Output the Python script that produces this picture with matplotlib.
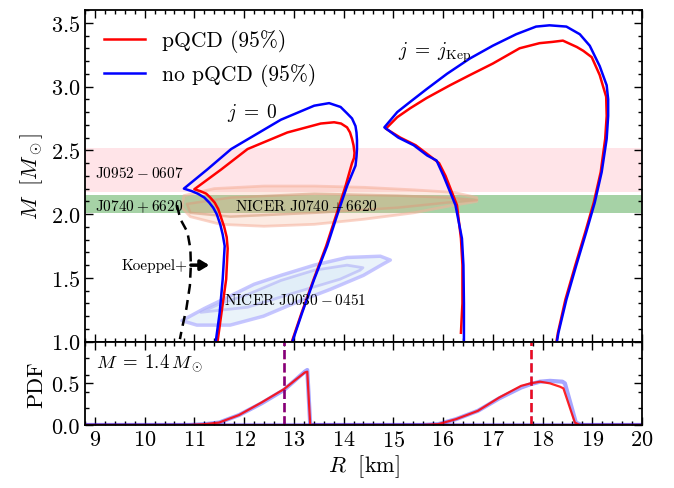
import matplotlib
matplotlib.use("Agg")
import matplotlib.pyplot as plt
from matplotlib.patches import Polygon
from matplotlib.ticker import MultipleLocator

plt.rcParams["font.family"] = "serif"
plt.rcParams["font.serif"] = ["cmr10"]
plt.rcParams["mathtext.fontset"] = "cm"
plt.rcParams["axes.formatter.use_mathtext"] = True
plt.rcParams["axes.unicode_minus"] = False

# ---- M-R curves, j = 0 ----
r_j0_blue = [11.43, 11.51, 11.57, 11.61, 11.57, 11.52, 11.45, 11.38, 11.30,
             11.20, 11.07, 10.95, 10.79,
             11.26, 11.74, 12.74, 13.41, 13.71, 13.94, 14.07, 14.17, 14.24,
             14.26, 14.27, 14.27, 14.26, 14.24, 14.07, 13.87, 13.67, 13.41,
             13.17, 12.97]
m_j0_blue = [1.00, 1.23, 1.49, 1.75, 1.84, 1.92, 2.00, 2.05, 2.09,
             2.13, 2.16, 2.18, 2.20,
             2.35, 2.51, 2.74, 2.85, 2.87, 2.84, 2.79, 2.75, 2.69,
             2.64, 2.58, 2.51, 2.45, 2.38, 2.22, 1.99, 1.75, 1.49,
             1.23, 1.00]

r_j0_red = [11.47, 11.54, 11.64, 11.67, 11.65, 11.60, 11.54, 11.48, 11.41,
            11.32, 11.24, 11.12, 11.00,
            11.54, 12.07, 12.87, 13.54, 13.81, 13.95, 14.07, 14.13, 14.17,
            14.20, 14.22, 14.21, 14.17, 14.04, 13.85, 13.65, 13.40, 13.16, 12.96]
m_j0_red = [1.01, 1.21, 1.49, 1.73, 1.82, 1.90, 1.97, 2.04, 2.09,
            2.13, 2.16, 2.18, 2.195,
            2.35, 2.51, 2.64, 2.71, 2.72, 2.71, 2.68, 2.64, 2.59,
            2.54, 2.48, 2.44, 2.40, 2.22, 1.99, 1.75, 1.49, 1.23, 1.00]

# ---- M-R curves, j = j_Kep ----
r_kep_blue = [16.42, 16.42, 16.41, 16.38, 16.25, 16.01, 15.87, 15.68, 15.41,
              15.10, 14.82, 15.08, 15.34, 15.67, 16.08, 16.54, 17.00, 17.47,
              17.87, 18.14, 18.48, 18.75, 18.95, 19.15, 19.29, 19.32, 19.32,
              19.29, 19.19, 19.05, 18.88, 18.68, 18.48, 18.32, 18.29]
m_kep_blue = [1.00, 1.30, 1.60, 1.81, 2.07, 2.30, 2.42, 2.46, 2.54,
              2.60, 2.68, 2.80, 2.88, 2.98, 3.10, 3.22, 3.32, 3.41,
              3.47, 3.48, 3.47, 3.41, 3.32, 3.16, 3.01, 2.90, 2.77,
              2.59, 2.33, 2.09, 1.86, 1.60, 1.33, 1.07, 1.00]

r_kep_red = [16.36, 16.39, 16.39, 16.36, 16.28, 16.05, 15.92, 15.72, 15.45,
             15.14, 14.85, 15.08, 15.34, 15.67, 16.14, 16.54, 17.00, 17.54,
             17.94, 18.20, 18.41, 18.69, 18.82, 18.99, 19.15, 19.28, 19.29,
             19.26, 19.17, 19.03, 18.86, 18.66, 18.46, 18.31, 18.28]
m_kep_red = [1.07, 1.30, 1.60, 1.81, 2.07, 2.30, 2.40, 2.46, 2.54,
             2.60, 2.67, 2.76, 2.83, 2.91, 3.01, 3.09, 3.18, 3.30,
             3.34, 3.35, 3.36, 3.31, 3.28, 3.23, 3.09, 2.92, 2.77,
             2.59, 2.33, 2.09, 1.86, 1.60, 1.33, 1.07, 1.00]

# ---- Koeppel+ bound ----
r_koeppel = [10.65, 10.72, 10.86, 10.92, 10.93, 10.91, 10.84, 10.75, 10.71]
m_koeppel = [2.07, 1.96, 1.86, 1.73, 1.60, 1.44, 1.26, 1.10, 1.02]

# ---- mass bands ----
j0952_band = (2.17, 2.52)
j0740_band = (2.01, 2.15)

# ---- NICER contours (95% outer, 68% inner) ----
j0740_outer_r = [10.79, 11.40, 12.40, 13.41, 14.41, 15.42, 16.22, 16.68,
                 16.68, 16.08, 15.41, 14.41, 13.41, 12.40, 11.53, 10.92, 10.75]
j0740_outer_m = [2.145, 2.20, 2.22, 2.22, 2.21, 2.19, 2.17, 2.13,
                 2.10, 2.06, 2.01, 1.96, 1.92, 1.905, 1.92, 1.98, 2.05]
j0740_inner_r = [10.85, 11.73, 13.41, 15.08, 16.08, 16.68,
                 16.08, 15.08, 13.41, 11.73, 10.92]
j0740_inner_m = [2.08, 2.13, 2.16, 2.145, 2.13, 2.11,
                 2.09, 2.05, 2.01, 1.98, 2.01]

j0030_outer_r = [10.75, 11.05, 11.72, 12.39, 13.06, 13.73, 14.40, 14.80, 14.94,
                 14.74, 14.07, 13.41, 12.74, 12.20, 11.73, 11.20]
j0030_outer_m = [1.165, 1.13, 1.13, 1.20, 1.31, 1.41, 1.52, 1.61, 1.64,
                 1.67, 1.66, 1.60, 1.52, 1.45, 1.36, 1.26]
j0030_inner_r = [11.13, 12.07, 13.07, 13.93, 14.33, 14.39,
                 14.07, 13.41, 12.74, 12.07, 11.53]
j0030_inner_m = [1.23, 1.27, 1.39, 1.49, 1.56, 1.58,
                 1.60, 1.56, 1.48, 1.37, 1.30]

# ---- PDF of R at M = 1.4 ----
pdf_r_j0 = [8.8, 10.9, 11.2, 11.5, 11.9, 12.35, 12.8, 13.05, 13.22, 13.27, 13.33, 20.0]
pdf_j0_red = [0, 0, 0.01, 0.03, 0.12, 0.27, 0.43, 0.55, 0.63, 0.64, 0.0, 0.0]
pdf_j0_blue = [0, 0, 0.01, 0.03, 0.12, 0.26, 0.42, 0.55, 0.64, 0.66, 0.0, 0.0]

pdf_r_kep_red = [8.8, 15.6, 15.9, 16.26, 16.7, 17.13, 17.57, 17.76, 17.95,
                 18.15, 18.35, 18.42, 18.65, 18.75, 20.0]
pdf_kep_red = [0, 0, 0.01, 0.07, 0.17, 0.33, 0.47, 0.50, 0.52,
               0.50, 0.46, 0.44, 0.03, 0.0, 0.0]
pdf_r_kep_blue = [8.8, 15.6, 15.9, 16.26, 16.7, 17.13, 17.57, 17.76, 17.95,
                  18.15, 18.40, 18.45, 18.67, 18.78, 20.0]
pdf_kep_blue = [0, 0, 0.01, 0.07, 0.17, 0.32, 0.45, 0.49, 0.52,
                0.53, 0.52, 0.50, 0.03, 0.0, 0.0]

median_j0 = 12.8
median_kep = 17.76


fig = plt.figure(figsize=(6.74, 4.89), dpi=100)
ax1 = fig.add_axes([0.126, 0.2992, 0.8265, 0.6783])
ax2 = fig.add_axes([0.126, 0.1288, 0.8265, 0.1704], sharex=ax1)

# bands
ax1.axhspan(*j0952_band, color="#ffe4e8", lw=0, zorder=0)
ax1.axhspan(*j0740_band, color="green", alpha=0.35, lw=0, zorder=0)

# NICER J0740 contours
ax1.add_patch(Polygon(list(zip(j0740_outer_r, j0740_outer_m)), closed=True,
                      facecolor="#f4a582", alpha=0.22, edgecolor="none", zorder=1))
ax1.add_patch(Polygon(list(zip(j0740_outer_r, j0740_outer_m)), closed=True,
                      facecolor="none", edgecolor="#f6b09a", lw=2, alpha=0.55,
                      joinstyle="round", zorder=1))
ax1.add_patch(Polygon(list(zip(j0740_inner_r, j0740_inner_m)), closed=True,
                      facecolor="#f4a582", alpha=0.18, edgecolor="none", zorder=1))
ax1.add_patch(Polygon(list(zip(j0740_inner_r, j0740_inner_m)), closed=True,
                      facecolor="none", edgecolor="#d9a080", lw=1.8, alpha=0.6,
                      joinstyle="round", zorder=1))

# NICER J0030 contours
ax1.add_patch(Polygon(list(zip(j0030_outer_r, j0030_outer_m)), closed=True,
                      facecolor="#dcebf8", alpha=0.6, edgecolor="none", zorder=1))
ax1.add_patch(Polygon(list(zip(j0030_outer_r, j0030_outer_m)), closed=True,
                      facecolor="none", edgecolor="#b8b8ff", lw=2.5, alpha=0.8,
                      joinstyle="round", zorder=1))
ax1.add_patch(Polygon(list(zip(j0030_inner_r, j0030_inner_m)), closed=True,
                      facecolor="#dcebf8", alpha=0.6, edgecolor="#b0b0f8", lw=2,
                      joinstyle="round", zorder=1))

# M-R curves
ax1.plot(r_j0_red, m_j0_red, color="red", lw=1.8, zorder=3, label="pQCD (95%)")
ax1.plot(r_j0_blue, m_j0_blue, color="blue", lw=1.8, zorder=3, label="no pQCD (95%)")
ax1.plot(r_kep_red, m_kep_red, color="red", lw=1.8, zorder=3)
ax1.plot(r_kep_blue, m_kep_blue, color="blue", lw=1.8, zorder=3)

ax1.plot(r_koeppel, m_koeppel, color="black", ls=(0, (4, 2.5)), lw=1.8, zorder=4)
ax1.annotate("", xy=(11.30, 1.60), xytext=(10.93, 1.60),
             arrowprops=dict(arrowstyle="-|>,head_width=0.3,head_length=0.5",
                             lw=2.5, color="black", shrinkA=0, shrinkB=0), zorder=4)

ax1.text(10.87, 1.60, "Koeppel+", fontsize=11, ha="right", va="center")
ax1.text(9.01, 2.33, r"J$0952\:-\:0607$", fontsize=11, ha="left", va="center")
ax1.text(9.01, 2.07, r"J$0740\:+\:6620$", fontsize=11, ha="left", va="center", zorder=5)
ax1.text(11.81, 2.07, r"NICER J$0740\:+\:6620$", fontsize=11, ha="left", va="center", zorder=5)
ax1.text(11.60, 1.33, r"NICER J$0030\:-\:0451$", fontsize=11, ha="left", va="center", zorder=5)
ax1.text(12.17, 2.80, r"$j\;=\;0$", fontsize=14, ha="center", va="center")
ax1.text(15.84, 3.27, r"$j\;=\;j_{\rm Kep}$", fontsize=14, ha="center", va="center")

ax1.legend(loc="upper left", frameon=False, fontsize=15.5, handlelength=1.9)

ax1.set_xlim(8.8, 20.0)
ax1.set_ylim(1.0, 3.6)
ax1.set_ylabel(r"$M\ \ [M_\odot]$", fontsize=16)
ax1.yaxis.set_major_locator(MultipleLocator(0.5))
ax1.yaxis.set_minor_locator(MultipleLocator(0.1))
ax1.tick_params(labelbottom=False)

# PDF panel
ax2.plot(pdf_r_j0, pdf_j0_blue, color="blue", alpha=0.35, lw=3)
ax2.plot(pdf_r_kep_blue, pdf_kep_blue, color="blue", alpha=0.35, lw=3)
ax2.plot(pdf_r_j0, pdf_j0_red, color="red", alpha=0.85, lw=1.6)
ax2.plot(pdf_r_kep_red, pdf_kep_red, color="red", alpha=0.85, lw=1.6)
ax2.axvline(median_j0, color="red", ls="--", lw=1.8)
ax2.axvline(median_j0, color="blue", ls="--", lw=1.8, alpha=0.5)
ax2.axvline(median_kep, color="blue", ls="--", lw=1.8, alpha=0.5)
ax2.axvline(median_kep, color="red", ls="--", lw=1.8, alpha=0.9)
ax2.text(0.02, 0.88, r"$M\;=\;1.4\,M_\odot$", transform=ax2.transAxes,
         fontsize=13.5, ha="left", va="top")

ax2.set_ylim(0.0, 1.0)
ax2.set_yticks([0.0, 0.5, 1.0])
ax2.set_yticklabels(["0.0", "0.5", ""])
ax2.yaxis.set_minor_locator(MultipleLocator(0.2))
ax2.xaxis.set_major_locator(MultipleLocator(1))
ax2.xaxis.set_minor_locator(MultipleLocator(0.2))
ax2.set_ylabel("PDF", fontsize=16)
ax2.set_xlabel(r"$R\ \ [\mathrm{km}]$", fontsize=16, labelpad=2)

for ax in (ax1, ax2):
    for s in ax.spines.values():
        s.set_linewidth(1.3)
    ax.tick_params(which="both", direction="in", top=True, right=True,
                   labelsize=16, width=1.0)
    ax.tick_params(which="major", length=5.5)
    ax.tick_params(which="minor", length=3)

fig.align_ylabels([ax1, ax2])

plt.savefig("out.png", dpi=100)
